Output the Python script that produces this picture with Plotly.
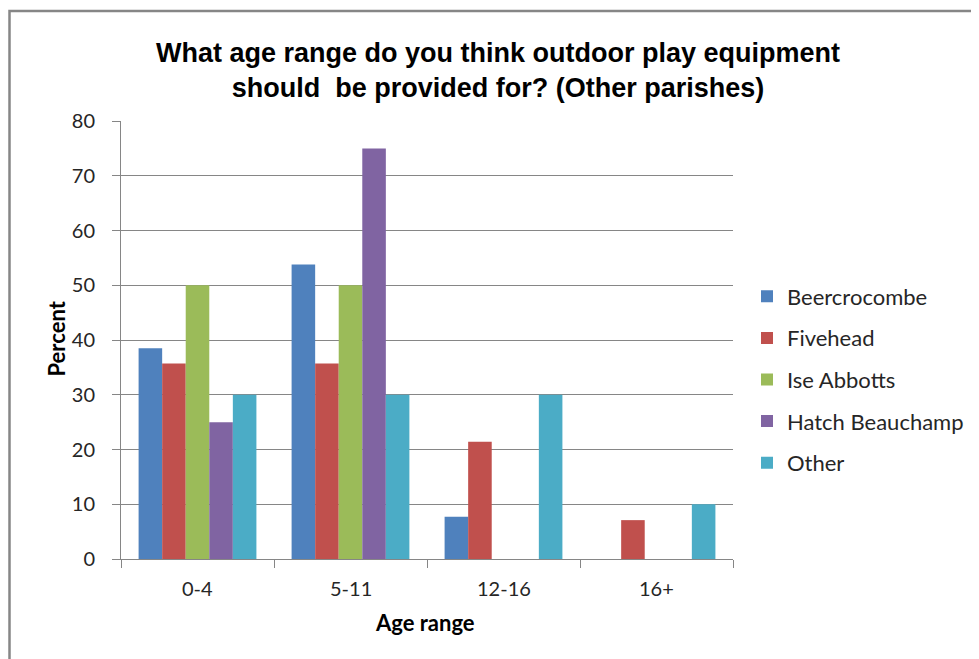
import plotly.graph_objects as go

categories = ["0-4", "5-11", "12-16", "16+"]
beercrocombe = [38.5, 53.8, 7.7, 0]
fivehead = [35.7, 35.7, 21.4, 7.1]
ise_abbotts = [50, 50, 0, 0]
hatch_beauchamp = [25, 75, 0, 0]
other = [30, 30, 30, 10]

series = [
    ("Beercrocombe", beercrocombe, "#4F81BD"),
    ("Fivehead", fivehead, "#C0504D"),
    ("Ise Abbotts", ise_abbotts, "#9BBB59"),
    ("Hatch Beauchamp", hatch_beauchamp, "#8064A2"),
    ("Other", other, "#4BACC6"),
]

fig = go.Figure()
for name, vals, col in series:
    fig.add_trace(go.Bar(x=categories, y=vals, name=name, marker_color=col,
                         marker_line_width=0, legendgroup=name))

OFF = 8  # page body margin
W, H = 979 - OFF, 659 - OFF
L, T = 121 - OFF, 121 - OFF
pw, ph = 612, 438
R, B = W - L - pw, H - T - ph

def px(xr):  # reference x pixel -> paper x
    return (xr - OFF - L) / pw

def py(yr):  # reference y pixel -> paper y
    return 1 - (yr - OFF - T) / ph

TXT = "#262626"
SANS = "Lato, 'Open Sans', sans-serif"

fig.update_layout(
    width=W, height=H,
    margin=dict(l=L, r=R, t=T, b=B, autoexpand=False),
    paper_bgcolor="white", plot_bgcolor="white",
    barmode="group", bargap=0.23, bargroupgap=0,
    font=dict(family=SANS, color=TXT),
    title=dict(
        text="<b>What age range do you think outdoor play equipment<br>should  be provided for? (Other parishes)</b>",
        x=(498 - OFF) / W, xanchor="center", xref="container",
        y=1 - (61.5 - OFF) / H, yanchor="middle", yref="container",
        font=dict(family="Liberation Sans, Arial, sans-serif", size=27, color="black"),
    ),
    xaxis=dict(
        showline=True, linecolor="#868686", linewidth=1,
        ticks="outside", ticklen=8, tickcolor="#868686",
        tickmode="array", tickvals=[-0.5, 0.5, 1.5, 2.5, 3.5], ticktext=["", "", "", "", ""],
        range=[-0.5, 3.5], showgrid=False, zeroline=False,
    ),
    yaxis=dict(
        range=[0, 80], dtick=10, showgrid=True, gridcolor="#868686", gridwidth=1,
        showline=True, linecolor="#868686", linewidth=1,
        ticks="outside", ticklen=8, tickcolor="#868686",
        tickfont=dict(size=20, color=TXT), ticklabelstandoff=13,
        zeroline=False,
    ),
    legend=dict(
        x=px(747), xanchor="left", y=py(379.5), yanchor="middle",
        font=dict(size=22, color=TXT), tracegroupgap=10,
        bgcolor="rgba(0,0,0,0)", itemwidth=30,
    ),
    showlegend=True,
)

# category labels
for i, c in enumerate(categories):
    fig.add_annotation(x=i, y=py(588), xref="x", yref="paper", text=c, showarrow=False,
                       yanchor="middle", font=dict(size=20, color=TXT))

# axis titles
fig.add_annotation(x=px(425), y=py(622), xref="paper", yref="paper",
                   text="<b>Age range</b>", showarrow=False, yanchor="middle",
                   font=dict(size=22, color="black"))
fig.add_annotation(x=px(55.5), y=py(339), xref="paper", yref="paper",
                   text="<b>Percent</b>", showarrow=False, textangle=-90,
                   xanchor="center", yanchor="middle",
                   font=dict(size=22, color="black"))

# outer chart border
fig.add_shape(type="rect", xref="paper", yref="paper",
              x0=px(9.5), x1=px(990), y0=py(680), y1=py(11),
              line=dict(color="#868686", width=2.5), layer="below")

fig.write_html("out.html")
